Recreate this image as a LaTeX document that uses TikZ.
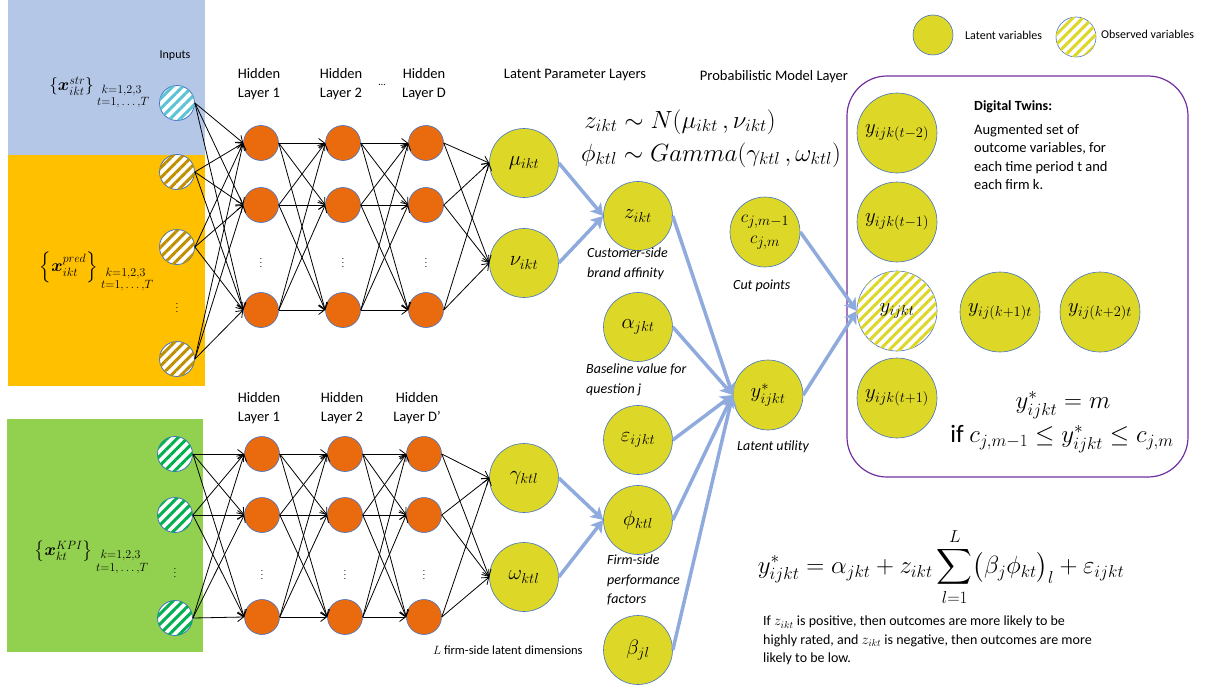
\documentclass[tikz,border=0pt]{standalone}
\usepackage{amsmath}
\usepackage{bm}
\usepackage{fontspec}
\setmainfont{Carlito}
\usetikzlibrary{arrows.meta,patterns.meta}

\definecolor{bgblue}{HTML}{B4C7E7}
\definecolor{bgorange}{HTML}{FFC000}
\definecolor{bggreen}{HTML}{92D050}
\definecolor{nodeorange}{HTML}{EA6B0E}
\definecolor{latentyellow}{HTML}{DDD727}
\definecolor{rimblue}{HTML}{4472C4}
\definecolor{flowblue}{HTML}{8FAADC}
\definecolor{twinpurple}{HTML}{7030A0}
\definecolor{stripecyan}{HTML}{5BC3D5}
\definecolor{stripegold}{HTML}{BF9000}
\definecolor{stripegreen}{HTML}{00B050}

\newcommand{\fs}[1]{\fontsize{#1}{#1}\selectfont}
% index range printed under an input set
\newcommand{\kt}{\mbox{\fontsize{11.5}{12.5}\selectfont$\begin{array}{@{}c@{}}k{=}1{,}2{,}3\\ \;t{=}1{,}\ldots{,}T\end{array}$}}

\tikzset{
  hid/.style={circle, fill=nodeorange, draw=rimblue, line width=0.6pt,
    minimum size=35pt, inner sep=0pt},
  inp/.style={circle, draw=rimblue, line width=0.8pt, fill=white,
    minimum size=35pt, inner sep=0pt,
    postaction={pattern={Lines[angle=45,distance=7pt,line width=3pt]}, pattern color=#1}},
  latent/.style={circle, fill=latentyellow, draw=rimblue, line width=0.6pt,
    minimum size=69pt, inner sep=0pt, font=\fs{21}},
  twin/.style={latent, minimum size=80pt},
  observed/.style={circle, draw=rimblue, line width=0.6pt, fill=white,
    minimum size=#1, inner sep=0pt, font=\fs{21},
    postaction={pattern={Lines[angle=45,distance=7pt,line width=3pt]}, pattern color=latentyellow}},
  nn/.style={black, line width=0.8pt, -{Straight Barb[length=6pt,width=9pt]}},
  flow/.style={draw=flowblue, line width=3.5pt, -{Stealth[length=12pt,width=14pt,inset=3pt]}},
  lbl/.style={font=\fs{14.5}, inner sep=0pt},
  hl/.style={font=\fontsize{14.5}{19}\selectfont, align=center, inner sep=0pt},
  captxt/.style={font=\fontsize{14}{19.5}\selectfont\itshape, align=left, inner sep=0pt, anchor=north west},
  vd/.style={font=\fs{9}, inner sep=0pt},
  setlbl/.style={inner sep=0pt, anchor=east, font=\fs{17}}
}

\begin{document}
\begin{tikzpicture}[x=1pt, y=-1pt]
\useasboundingbox (0,0) rectangle (1211,685);

% coloured input panels
\fill[bgblue]   (8,0)   rectangle (205,155);
\fill[bgorange] (8,155) rectangle (205,386);
\fill[bggreen]  (7,419) rectangle (203,652);

% digital twin frame
\draw[twinpurple, line width=1.2pt, rounded corners=40pt] (847,76) rectangle (1188,477);

% ---------- upper network ----------
\node[lbl] (inlab) at (175,56) {\fs{12}Inputs};
\node[inp=stripecyan] (i1) at (177,103) {};
\node[inp=stripegold] (i2) at (177,172) {};
\node[inp=stripegold] (i3) at (177,247) {};
\node[vd] (idots) at (177,305) {$\vdots$};
\node[inp=stripegold] (i4) at (177,359) {};

\node[setlbl] (xstr) at (150,93)
  {$\left\{\bm{x}^{str}_{ikt}\right\}_{\kt}$};
\node[setlbl] (xpred) at (154,272)
  {$\left\{\bm{x}^{pred}_{ikt}\right\}_{\kt}$};

\foreach \c/\x in {a/261, b/343, d/426}{
  \node[hid] (\c1) at (\x,143) {};
  \node[hid] (\c2) at (\x,205) {};
  \node[vd]  (\c0) at (\x,260) {$\vdots$};
  \node[hid] (\c3) at (\x,310) {};
}
\node[hl] (hla) at (259,84) {Hidden\\Layer 1};
\node[hl] (hlb) at (341,84) {Hidden\\Layer 2};
\node[hl] (hld) at (424,84) {Hidden\\Layer D};
\node[font=\fs{10}, inner sep=0pt] (hdots) at (382,85) {\dots};

\node[latent] (mu) at (524,163) {$\mu_{ikt}$};
\node[latent] (nu) at (524,263) {$\nu_{ikt}$};

\foreach \s in {i1,i2,i3,i4}{\foreach \t in {a1,a2,a3}{\draw[nn] (\s.east) -- (\t.west);}}
\foreach \s in {a1,a2,a3}{\foreach \t in {b1,b2,b3}{\draw[nn] (\s.east) -- (\t.west);}}
\foreach \s in {b1,b2,b3}{\foreach \t in {d1,d2,d3}{\draw[nn] (\s.east) -- (\t.west);}}
\foreach \s in {d1,d2,d3}{\foreach \t in {mu,nu}{\draw[nn] (\s.east) -- (\t.west);}}

% ---------- lower network ----------
\node[inp=stripegreen] (g1) at (175,454) {};
\node[inp=stripegreen] (g2) at (175,515) {};
\node[vd] (gdots) at (175,570) {$\vdots$};
\node[inp=stripegreen] (g3) at (175,618) {};
\node[setlbl] (xkpi) at (149,558)
  {$\left\{\bm{x}^{KPI}_{kt}\right\}_{\kt}$};

\foreach \c/\x in {e/262, f/345, h/424}{
  \node[hid] (\c1) at (\x,454) {};
  \node[hid] (\c2) at (\x,515) {};
  \node[vd]  (\c0) at (\x,572) {$\vdots$};
  \node[hid] (\c3) at (\x,617) {};
}
\node[hl] (hle) at (259,408) {Hidden\\Layer 1};
\node[hl] (hlf) at (342,408) {Hidden\\Layer 2};
\node[hl] (hlh) at (417,408) {Hidden\\Layer D’};

\node[latent] (gamma) at (524,478) {$\gamma_{ktl}$};
\node[latent] (omega) at (524,577) {$\omega_{ktl}$};

\foreach \s in {g1,g2,g3}{\foreach \t in {e1,e2,e3}{\draw[nn] (\s.east) -- (\t.west);}}
\foreach \s in {e1,e2,e3}{\foreach \t in {f1,f2,f3}{\draw[nn] (\s.east) -- (\t.west);}}
\foreach \s in {f1,f2,f3}{\foreach \t in {h1,h2,h3}{\draw[nn] (\s.east) -- (\t.west);}}
\foreach \s in {h1,h2,h3}{\foreach \t in {gamma,omega}{\draw[nn] (\s.east) -- (\t.west);}}

\node[font=\fs{12.5}, inner sep=0pt, anchor=west] (ldims) at (433,650)
  {$L$ firm-side latent dimensions};

% ---------- latent parameter layer ----------
\node[lbl] (lplab) at (575,75) {Latent Parameter Layers};
\node[lbl] (pmlab) at (774,77) {Probabilistic Model Layer};
\node[font=\fs{25}, inner sep=0pt] (eqz) at (680,122)
  {$z_{ikt}\sim N(\mu_{ikt}\,,\nu_{ikt})$};
\node[font=\fs{25}, inner sep=0pt] (eqphi) at (711,155)
  {$\phi_{ktl}\sim \mathnormal{Gamma}(\gamma_{ktl}\,,\omega_{ktl})$};

\node[latent] (z)     at (638,216) {$z_{ikt}$};
\node[latent] (alpha) at (638,327) {$\alpha_{jkt}$};
\node[latent] (eps)   at (638,440) {$\varepsilon_{ijkt}$};
\node[latent] (phi)   at (638,520) {$\phi_{ktl}$};
\node[latent] (beta)  at (638,650) {$\beta_{jl}$};

\node[captxt] (zcap)   at (587,248) {Customer-side\\brand affinity};
\node[captxt] (acap)   at (586,364) {Baseline value for\\question j};
\node[captxt] (phicap) at (607,555) {Firm-side\\performance\\factors};

\node[latent, minimum size=70pt, align=center, font=\fontsize{19}{19}\selectfont] (c) at (765,232)
  {$c_{j,m-1}$\\[2pt]$c_{j,m}$};
\node[captxt, anchor=west] (ccap) at (733,286) {Cut points};

\node[latent, minimum size=70pt] (ystar) at (768,395) {$y^{*}_{ijkt}$};
\node[captxt, anchor=west] (ycap) at (737,447) {Latent utility};

% ---------- digital twins ----------
\node[twin] (t2)  at (897,133) {$y_{ijk(t-2)}$};
\node[twin] (t1)  at (897,222) {$y_{ijk(t-1)}$};
\node[observed=80pt] (yobs) at (897,311) {$y_{ijkt}$};
\node[twin] (k1)  at (1000,312) {$y_{ij(k+1)t}$};
\node[twin] (k2)  at (1100,312) {$y_{ij(k+2)t}$};
\node[twin] (tp1) at (897,398) {$y_{ijk(t+1)}$};

\node[font=\bfseries\fs{14}, inner sep=0pt, anchor=west] (dtt) at (974,107) {Digital Twins:};
\node[font=\fontsize{14.5}{18.5}\selectfont, align=left, inner sep=0pt, anchor=north west] (dtx) at (974,124)
  {Augmented set of\\outcome variables, for\\each time period t and\\each firm k.};
\node[font=\fs{26}, inner sep=0pt] (rule1) at (1063,405) {$y^{*}_{ijkt}=m$};
\node[font=\fs{25}, inner sep=0pt] (rule2) at (1062,439) {if $c_{j,m-1}\le y^{*}_{ijkt}\le c_{j,m}$};

% ---------- legend ----------
\node[latent, minimum size=40pt] (leglat) at (933,35) {};
\node[font=\fs{12}, inner sep=0pt, anchor=west] (leglatt) at (965,35) {Latent variables};
\node[observed=40pt] (legobs) at (1076,37) {};
\node[font=\fs{12}, inner sep=0pt, anchor=west] (legobst) at (1101,34) {Observed variables};

% ---------- probabilistic flow ----------
\draw[flow] (mu.east) -- (z.west);
\draw[flow] (nu.east) -- (z.west);
\draw[flow] (gamma.east) -- (phi.west);
\draw[flow] (omega.east) -- (phi.west);
\draw[flow] (z.east) -- (ystar.west);
\draw[flow] (alpha.east) -- (ystar.west);
\draw[flow] (eps.east) -- (ystar.west);
\draw[flow] (phi.east) -- (ystar.west);
\draw[flow] (beta.east) -- (ystar.west);
\draw[flow] (c.east) -- (yobs.west);
\draw[flow] (ystar.east) -- (yobs.west);

% ---------- utility equation ----------
\node[font=\fs{25}, inner sep=0pt] (ueq) at (941,567)
  {$\displaystyle y^{*}_{ijkt}=\alpha_{jkt}+z_{ikt}\sum_{l=1}^{L}\bigl(\beta_j\phi_{kt}\bigr)_l+\varepsilon_{ijkt}$};
\node[font=\fontsize{14}{18.5}\selectfont, align=left, inner sep=0pt, anchor=north west] (note) at (763,616)
  {If $z_{ikt}$ is positive, then outcomes are more likely to be\\
   highly rated, and $z_{ikt}$ is negative, then outcomes are more\\
   likely to be low.};
\end{tikzpicture}
\end{document}
